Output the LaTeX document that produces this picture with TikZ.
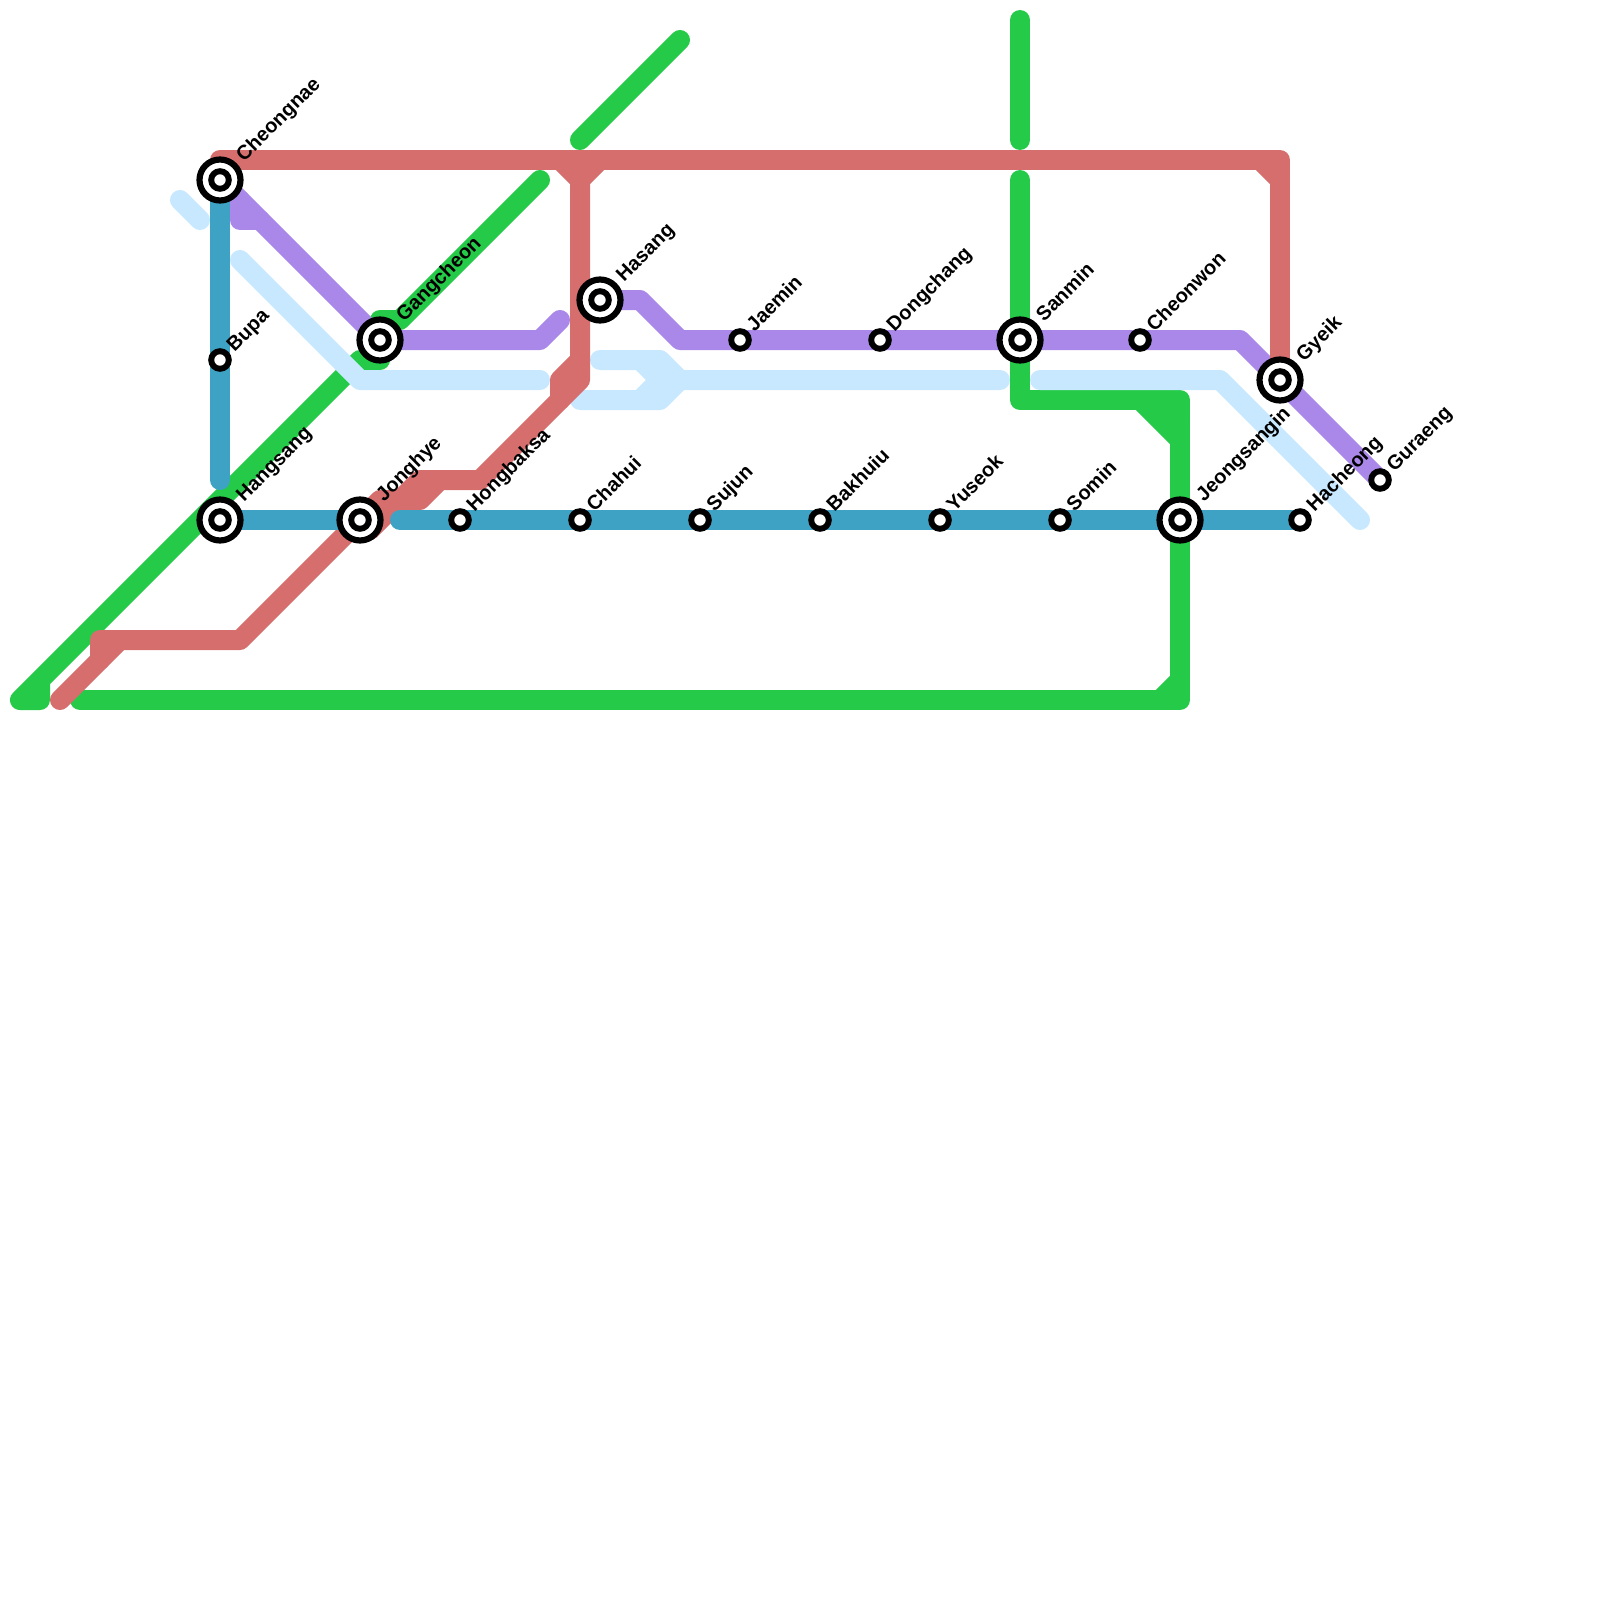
\documentclass[tikz,border=0pt]{standalone}
\usepackage{fontspec}
\setmainfont{Liberation Sans}
\definecolor{cred}{HTML}{D76E6E}
\definecolor{cgreen}{HTML}{25CB48}
\definecolor{cblue}{HTML}{3EA2C5}
\definecolor{cpurple}{HTML}{AA88EA}
\definecolor{clight}{HTML}{C7E8FE}
\tikzset{
  x=1pt,y=-1pt,
  metro/.style={line width=20pt,line cap=round,line join=round},
  ringa/.style={circle,draw=black,fill=white,line width=6.2pt,minimum size=41pt,inner sep=0pt},
  ringb/.style={circle,draw=black,fill=white,line width=5.9pt,minimum size=17.6pt,inner sep=0pt},
  stlabel/.style={rotate=45,anchor=base west,inner sep=0pt,font=\fontsize{20}{24}\selectfont\bfseries,text=black},
}
\newcommand{\bigst}[2]{\node[ringa] (#1o) at (#1) {};\node[ringb] (#1i) at (#1) {};\node[stlabel] (#1l) at ([shift={(24,-17.5)}]#1) {#2};}
\newcommand{\smallst}[2]{\node[ringb] (#1o) at (#1) {};\node[stlabel] (#1l) at ([shift={(14.5,-7.5)}]#1) {#2};}
\begin{document}
\begin{tikzpicture}
\useasboundingbox (0,0) rectangle (1600,1600);
\coordinate (cheongnae) at (220,180);
\coordinate (bupa) at (220,360);
\coordinate (hangsang) at (220,520);
\coordinate (jonghye) at (360,520);
\coordinate (gangcheon) at (380,340);
\coordinate (hongbaksa) at (460,520);
\coordinate (chahui) at (580,520);
\coordinate (sujun) at (700,520);
\coordinate (bakhuiu) at (820,520);
\coordinate (yuseok) at (940,520);
\coordinate (somin) at (1060,520);
\coordinate (jeongsangin) at (1180,520);
\coordinate (hacheong) at (1300,520);
\coordinate (hasang) at (600,300);
\coordinate (jaemin) at (740,340);
\coordinate (dongchang) at (880,340);
\coordinate (sanmin) at (1020,340);
\coordinate (cheonwon) at (1140,340);
\coordinate (gyeik) at (1280,380);
\coordinate (guraeng) at (1380,480);
% green
\draw[metro,cgreen] (40,680) -- (40,700) -- (20,700) -- (360,360) -- (380,360) -- (380,320) -- (400,320) -- (540,180);
\draw[metro,cgreen] (80,700) -- (1180,700) -- (jeongsangin) -- (1180,400) -- (1020,400) -- (sanmin) -- (1020,180);
\draw[metro,cgreen] (1160,700) -- (1180,680);
\draw[metro,cgreen] (1140,400) -- (1180,440);
\draw[metro,cgreen] (1160,400) -- (1180,420);
\draw[metro,cgreen] (1020,20) -- (1020,140);
\draw[metro,cgreen] (580,140) -- (680,40);
% light blue
\draw[metro,clight] (180,200) -- (200,220);
\draw[metro,clight] (240,260) -- (360,380) -- (540,380);
\draw[metro,clight] (600,360) -- (660,360) -- (680,380) -- (1000,380);
\draw[metro,clight] (580,400) -- (660,400) -- (680,380);
\draw[metro,clight] (640,360) -- (660,380) -- (640,400);
\draw[metro,clight] (1040,380) -- (1220,380) -- (1360,520);
% purple
\draw[metro,cpurple] (cheongnae) -- (360,320) -- (gangcheon) -- (540,340) -- (560,320);
\draw[metro,cpurple] (240,200) -- (240,220) -- (260,220);
\draw[metro,cpurple] (hasang) -- (640,300) -- (680,340) -- (jaemin) -- (dongchang) -- (sanmin) -- (cheonwon) -- (1240,340) -- (gyeik) -- (guraeng);
% red
\draw[metro,cred] (cheongnae) -- (220,160) -- (1280,160) -- (gyeik);
\draw[metro,cred] (560,160) -- (580,180) -- (600,160);
\draw[metro,cred] (1260,160) -- (1280,180);
\draw[metro,cred] (580,180) -- (580,380) -- (480,480) -- (440,480) -- (420,500) -- (380,500) -- (240,640) -- (100,640) -- (100,660);
\draw[metro,cred] (560,400) -- (560,380) -- (580,360);
\draw[metro,cred] (120,640) -- (60,700);
\draw[metro,cred] (370,530) -- (420,480) -- (440,480);
% blue
\draw[metro,cblue] (cheongnae) -- (bupa) -- (220,480);
\draw[metro,cblue] (hangsang) -- (jonghye);
\draw[metro,cblue] (400,520) -- (hongbaksa) -- (chahui) -- (sujun) -- (bakhuiu) -- (yuseok) -- (somin) -- (jeongsangin) -- (hacheong);
% stations
\bigst{cheongnae}{Cheongnae}
\smallst{bupa}{Bupa}
\bigst{hangsang}{Hangsang}
\bigst{jonghye}{Jonghye}
\bigst{gangcheon}{Gangcheon}
\smallst{hongbaksa}{Hongbaksa}
\smallst{chahui}{Chahui}
\smallst{sujun}{Sujun}
\smallst{bakhuiu}{Bakhuiu}
\smallst{yuseok}{Yuseok}
\smallst{somin}{Somin}
\bigst{jeongsangin}{Jeongsangin}
\smallst{hacheong}{Hacheong}
\bigst{hasang}{Hasang}
\smallst{jaemin}{Jaemin}
\smallst{dongchang}{Dongchang}
\bigst{sanmin}{Sanmin}
\smallst{cheonwon}{Cheonwon}
\bigst{gyeik}{Gyeik}
\smallst{guraeng}{Guraeng}
\end{tikzpicture}
\end{document}
